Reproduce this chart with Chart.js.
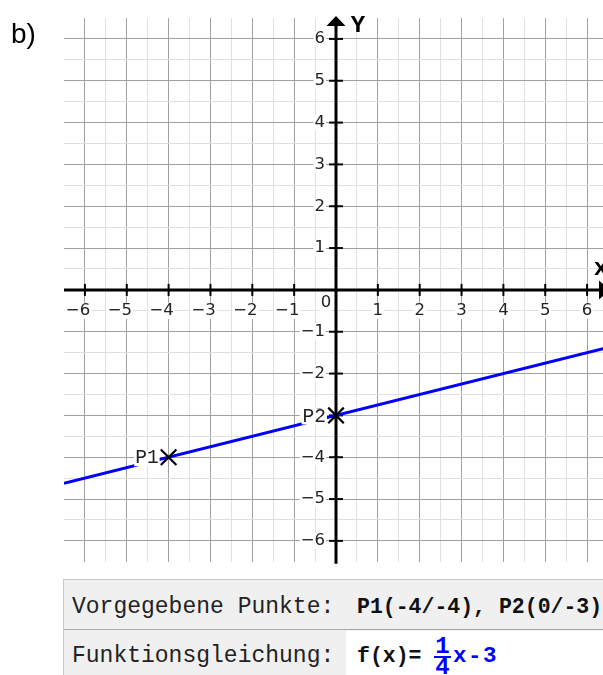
<!DOCTYPE html>
<html><head><meta charset="utf-8">
<script src="https://cdn.jsdelivr.net/npm/chart.js@4/dist/chart.umd.min.js"></script>
<style>
html,body{margin:0;padding:0;background:#fff;overflow:hidden;width:603px;height:675px;}
#wrap{position:absolute;left:0;top:0;width:640px;height:575px;}
.t{position:absolute;white-space:pre;font-family:"Liberation Mono","Courier New",monospace;color:#222;height:30px;line-height:30px;}
.r{font-size:23px;}
.b{font-size:21.5px;font-weight:bold;color:#111;}
.bl{color:#0000ff;}
.fr{font-size:24px;}
</style>
</head><body>
<div id="wrap"><canvas id="c" width="640" height="575"></canvas></div>
<div style="position:absolute;left:63px;top:579px;width:600px;height:120px;border-left:1px solid #c8c8c8;border-top:1px solid #c8c8c8;background:#f0f0f0;"></div>
<div style="position:absolute;left:64px;top:629px;width:600px;height:1px;background:#a8a8a8;"></div>
<div style="position:absolute;left:346px;top:631px;width:300px;height:60px;background:#fff;"></div>
<div id="row1a" class="t r" style="left:72px;top:592px;"></div>
<div id="row1b" class="t b" style="left:357px;top:592px;"></div>
<div id="row2a" class="t r" style="left:72px;top:641px;"></div>
<div id="row2b" class="t b" style="left:357px;top:641px;"></div>
<div id="fnum" class="t b bl fr" style="left:433px;top:632px;width:19px;text-align:center;"></div>
<div style="position:absolute;left:434px;top:656px;width:17px;height:2px;background:#0000ff;"></div>
<div id="fden" class="t b bl fr" style="left:433px;top:653px;width:19px;text-align:center;"></div>
<div id="row2c" class="t b bl" style="left:453px;top:641px;letter-spacing:1.5px;font-size:22.5px;"></div>
<script>
// ---- data ----
const xTicks = [-6,-5,-4,-3,-2,-1,1,2,3,4,5,6];
const yTicks = [-6,-5,-4,-3,-2,-1,1,2,3,4,5,6];
const axisMin = -6.5, axisMax = 6.5;
const pointNames = ["P1","P2"];
const pointX = [-4, 0];
const pointY = [-4, -3];
const lineX = [-6.5, 6.5];
const lineY = [-4.625, -1.375];
const panelLabel = "b)";
const xAxisName = "x", yAxisName = "Y";
const givenLabel = "Vorgegebene Punkte:";
const givenText = "P1(-4/-4), P2(0/-3)";
const eqLabel = "Funktionsgleichung:";
const eqLeft = "f(x)=";
const eqNum = "1", eqDen = "4", eqRest = "x-3";

document.getElementById('row1a').textContent = givenLabel;
document.getElementById('row1b').textContent = givenText;
document.getElementById('row2a').textContent = eqLabel;
document.getElementById('row2b').textContent = eqLeft;
document.getElementById('fnum').textContent = eqNum;
document.getElementById('fden').textContent = eqDen;
document.getElementById('row2c').textContent = eqRest;

function fmt(v){ return v < 0 ? '\u2212' + Math.abs(v) : String(v); }

function gridColor(ctx){
  if (!ctx.tick) return 'rgba(0,0,0,0)';
  const v = ctx.tick.value;
  if (Math.abs(Math.abs(v) - 6.5) < 1e-6) return 'rgba(0,0,0,0)';
  return Math.abs(v - Math.round(v)) < 1e-6 ? '#a0a0a0' : '#e0e0e0';
}

const axesPlugin = {
  id: 'axes',
  beforeDatasetsDraw(chart){
    const ctx = chart.ctx, xs = chart.scales.x, ys = chart.scales.y, a = chart.chartArea;
    const ax = xs.getPixelForValue(0), ay = ys.getPixelForValue(0);
    ctx.save();
    // panel label
    ctx.fillStyle = '#000';
    ctx.font = '28px "Liberation Sans", Arial, sans-serif';
    ctx.textAlign = 'left'; ctx.textBaseline = 'alphabetic';
    ctx.fillText(panelLabel, 11, 43);
    // axis lines
    ctx.strokeStyle = '#000'; ctx.lineWidth = 3;
    ctx.beginPath(); ctx.moveTo(a.left, ay); ctx.lineTo(a.right - 6, ay); ctx.stroke();
    ctx.beginPath(); ctx.moveTo(ax, a.bottom + 2); ctx.lineTo(ax, a.top + 6); ctx.stroke();
    // arrows
    ctx.fillStyle = '#000';
    ctx.beginPath(); ctx.moveTo(ax, a.top - 2); ctx.lineTo(ax - 9.5, a.top + 8); ctx.lineTo(ax + 9.5, a.top + 8); ctx.closePath(); ctx.fill();
    ctx.beginPath(); ctx.moveTo(a.right + 2, ay); ctx.lineTo(a.right - 9, ay - 9.5); ctx.lineTo(a.right - 9, ay + 9.5); ctx.closePath(); ctx.fill();
    // tick marks
    ctx.lineWidth = 2;
    xTicks.forEach(v => { const px = xs.getPixelForValue(v); ctx.beginPath(); ctx.moveTo(px, ay - 6); ctx.lineTo(px, ay + 6); ctx.stroke(); });
    yTicks.forEach(v => { const py = ys.getPixelForValue(v); ctx.beginPath(); ctx.moveTo(ax - 7, py); ctx.lineTo(ax + 7, py); ctx.stroke(); });
    // tick labels
    ctx.font = '16.5px "DejaVu Sans", sans-serif';
    ctx.textBaseline = 'middle';
    xTicks.forEach(v => {
      const px = xs.getPixelForValue(v);
      const d = String(Math.abs(v));
      const dw = ctx.measureText(d).width;
      const full = fmt(v);
      const fw = ctx.measureText(full).width;
      const x0 = px + dw / 2 - fw;
      ctx.fillStyle = '#fff';
      ctx.fillRect(x0 - 1, ay + 21 - 8, fw + 2, 16);
      ctx.fillStyle = '#222'; ctx.textAlign = 'left';
      ctx.fillText(full, x0, ay + 21);
    });
    yTicks.forEach(v => {
      const py = ys.getPixelForValue(v);
      const full = fmt(v);
      const fw = ctx.measureText(full).width;
      ctx.fillStyle = '#fff';
      ctx.fillRect(ax - 11 - fw - 1, py - 8, fw + 2, 16);
      ctx.fillStyle = '#222'; ctx.textAlign = 'right';
      ctx.fillText(full, ax - 11, py);
    });
    ctx.textAlign = 'center';
    ctx.fillStyle = '#fff';
    ctx.fillRect(ax - 16, ay + 5, 11, 17);
    ctx.fillStyle = '#222';
    ctx.fillText('0', ax - 10, ay + 13);
    // axis names
    ctx.fillStyle = '#000';
    ctx.font = 'bold 24px "Liberation Mono", "Courier New", monospace';
    ctx.fillText(yAxisName, ax + 22, a.top + 8);
    ctx.fillText(xAxisName, a.right - 7, ay - 21);
    ctx.restore();
  },
  afterDatasetDraw(chart, args){
    if (args.index !== 1) return;
    const ctx = chart.ctx, xs = chart.scales.x, ys = chart.scales.y;
    ctx.save();
    ctx.font = '19.5px "Liberation Mono", "Courier New", monospace';
    ctx.textAlign = 'right'; ctx.textBaseline = 'middle';
    pointNames.forEach((n, i) => {
      const px = xs.getPixelForValue(pointX[i]) - 10, py = ys.getPixelForValue(pointY[i]) + 1;
      const w = ctx.measureText(n).width;
      ctx.fillStyle = '#fff';
      ctx.fillRect(px - w - 1, py - 8, w + 2, 16);
      ctx.fillStyle = '#222';
      ctx.fillText(n, px, py);
    });
    ctx.restore();
  }
};

new Chart(document.getElementById('c'), {
  type: 'scatter',
  data: {
    datasets: [
      {
        label: 'points',
        data: pointX.map((x, i) => ({x: x, y: pointY[i]})),
        pointStyle: 'crossRot', pointRadius: 11, pointBorderWidth: 2.2,
        borderColor: '#000', backgroundColor: '#000', showLine: false
      },
      {
        label: 'line',
        data: lineX.map((x, i) => ({x: x, y: lineY[i]})),
        showLine: true, borderColor: '#0000ff', borderWidth: 3, pointRadius: 0
      }
    ]
  },
  options: {
    responsive: false, animation: false, events: [],
    layout: { padding: { left: 64, top: 18, right: 32, bottom: 13 } },
    plugins: { legend: { display: false }, tooltip: { enabled: false } },
    scales: {
      x: { type: 'linear', min: axisMin, max: axisMax,
           ticks: { display: false, stepSize: 0.5 },
           border: { display: false },
           grid: { color: gridColor, lineWidth: 1, drawTicks: false } },
      y: { type: 'linear', min: axisMin, max: axisMax,
           ticks: { display: false, stepSize: 0.5 },
           border: { display: false },
           grid: { color: gridColor, lineWidth: 1, drawTicks: false } }
    }
  },
  plugins: [axesPlugin]
});
</script>
</body></html>
